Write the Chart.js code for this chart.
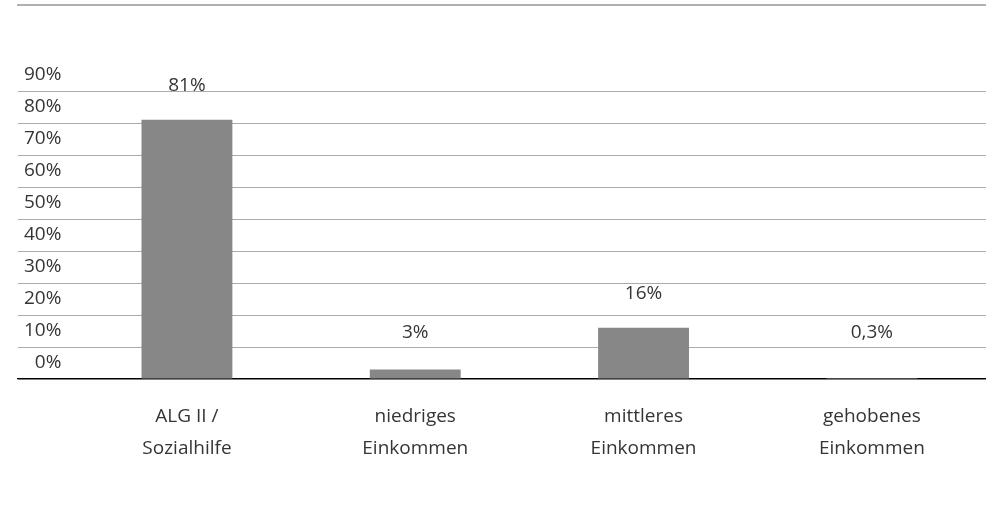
<!DOCTYPE html>
<html lang="de">
<head>
<meta charset="UTF-8">
<title>Einkommensgruppen</title>
<script src="https://cdn.jsdelivr.net/npm/chart.js"></script>
<style>
    * { margin: 0; padding: 0; box-sizing: border-box; }
    body { background: #ffffff; width: 986px; height: 524px; overflow: hidden; }
</style>
</head>
<body>
<canvas id="chart" width="986" height="524"></canvas>
<script>
// data
const categories = [
    ['ALG II /', 'Sozialhilfe'],
    ['niedriges', 'Einkommen'],
    ['mittleres', 'Einkommen'],
    ['gehobenes', 'Einkommen']
];
const shares = [81, 3, 16, 0.3];
const shareLabels = ['81%', '3%', '16%', '0,3%'];
const yTicks = [0, 10, 20, 30, 40, 50, 60, 70, 80, 90];

const textFont = { family: "'Open Sans', sans-serif", size: 19 };
const textColor = '#353535';

// thin rule across the top of the figure
const topRule = {
    id: 'topRule',
    beforeDraw(chart) {
        const ctx = chart.ctx;
        ctx.save();
        ctx.strokeStyle = '#b0b0b0';
        ctx.lineWidth = 2;
        ctx.beginPath();
        ctx.moveTo(17, 5);
        ctx.lineTo(chart.width, 5);
        ctx.stroke();
        ctx.restore();
    }
};

// value labels above the bars
const valueLabels = {
    id: 'valueLabels',
    afterDatasetsDraw(chart) {
        const ctx = chart.ctx;
        const meta = chart.getDatasetMeta(0);
        const base = chart.scales.y.getPixelForValue(0);
        ctx.save();
        ctx.font = textFont.size + 'px ' + textFont.family;
        ctx.fillStyle = textColor;
        ctx.textAlign = 'center';
        ctx.textBaseline = 'middle';
        meta.data.forEach((bar, i) => {
            const y = Math.min(bar.y - 34, base - 46);
            ctx.fillText(shareLabels[i], bar.x, y);
        });
        ctx.restore();
    }
};

new Chart(document.getElementById('chart'), {
    type: 'bar',
    data: {
        datasets: [{
            data: shares.map((v, i) => ({ x: i, y: v })),
            backgroundColor: '#878787',
            borderWidth: 0,
            barPercentage: 0.398,
            categoryPercentage: 1
        }]
    },
    options: {
        responsive: false,
        animation: false,
        layout: { padding: { left: 18, right: 0, top: 91, bottom: 0 } },
        plugins: {
            legend: { display: false },
            tooltip: { enabled: false }
        },
        scales: {
            x: {
                type: 'linear',
                offset: false,
                min: -0.74,
                max: 3.5,
                afterBuildTicks(scale) {
                    scale.ticks = categories.map((c, i) => ({ value: i }));
                },
                afterFit(scale) {
                    scale.height = 145;
                },
                grid: { display: false, drawTicks: false, offset: false },
                border: { display: true, color: '#000000', width: 1.3 },
                ticks: {
                    font: { ...textFont, lineHeight: 32 / 19 },
                    color: textColor,
                    padding: 22,
                    maxRotation: 0,
                    autoSkip: false,
                    callback: (v) => categories[v]
                }
            },
            y: {
                min: 0,
                max: 90,
                afterBuildTicks(scale) {
                    scale.ticks = yTicks.map(v => ({ value: v }));
                },
                afterFit(scale) {
                    scale.width = 0;
                },
                grid: { color: '#ababab', lineWidth: 1, drawTicks: false },
                border: { display: false },
                ticks: {
                    mirror: true,
                    crossAlign: 'far',
                    padding: 6,
                    labelOffset: -16,
                    font: textFont,
                    color: textColor,
                    callback: (v) => v + '%'
                }
            }
        }
    },
    plugins: [topRule, valueLabels]
});
</script>
</body>
</html>
